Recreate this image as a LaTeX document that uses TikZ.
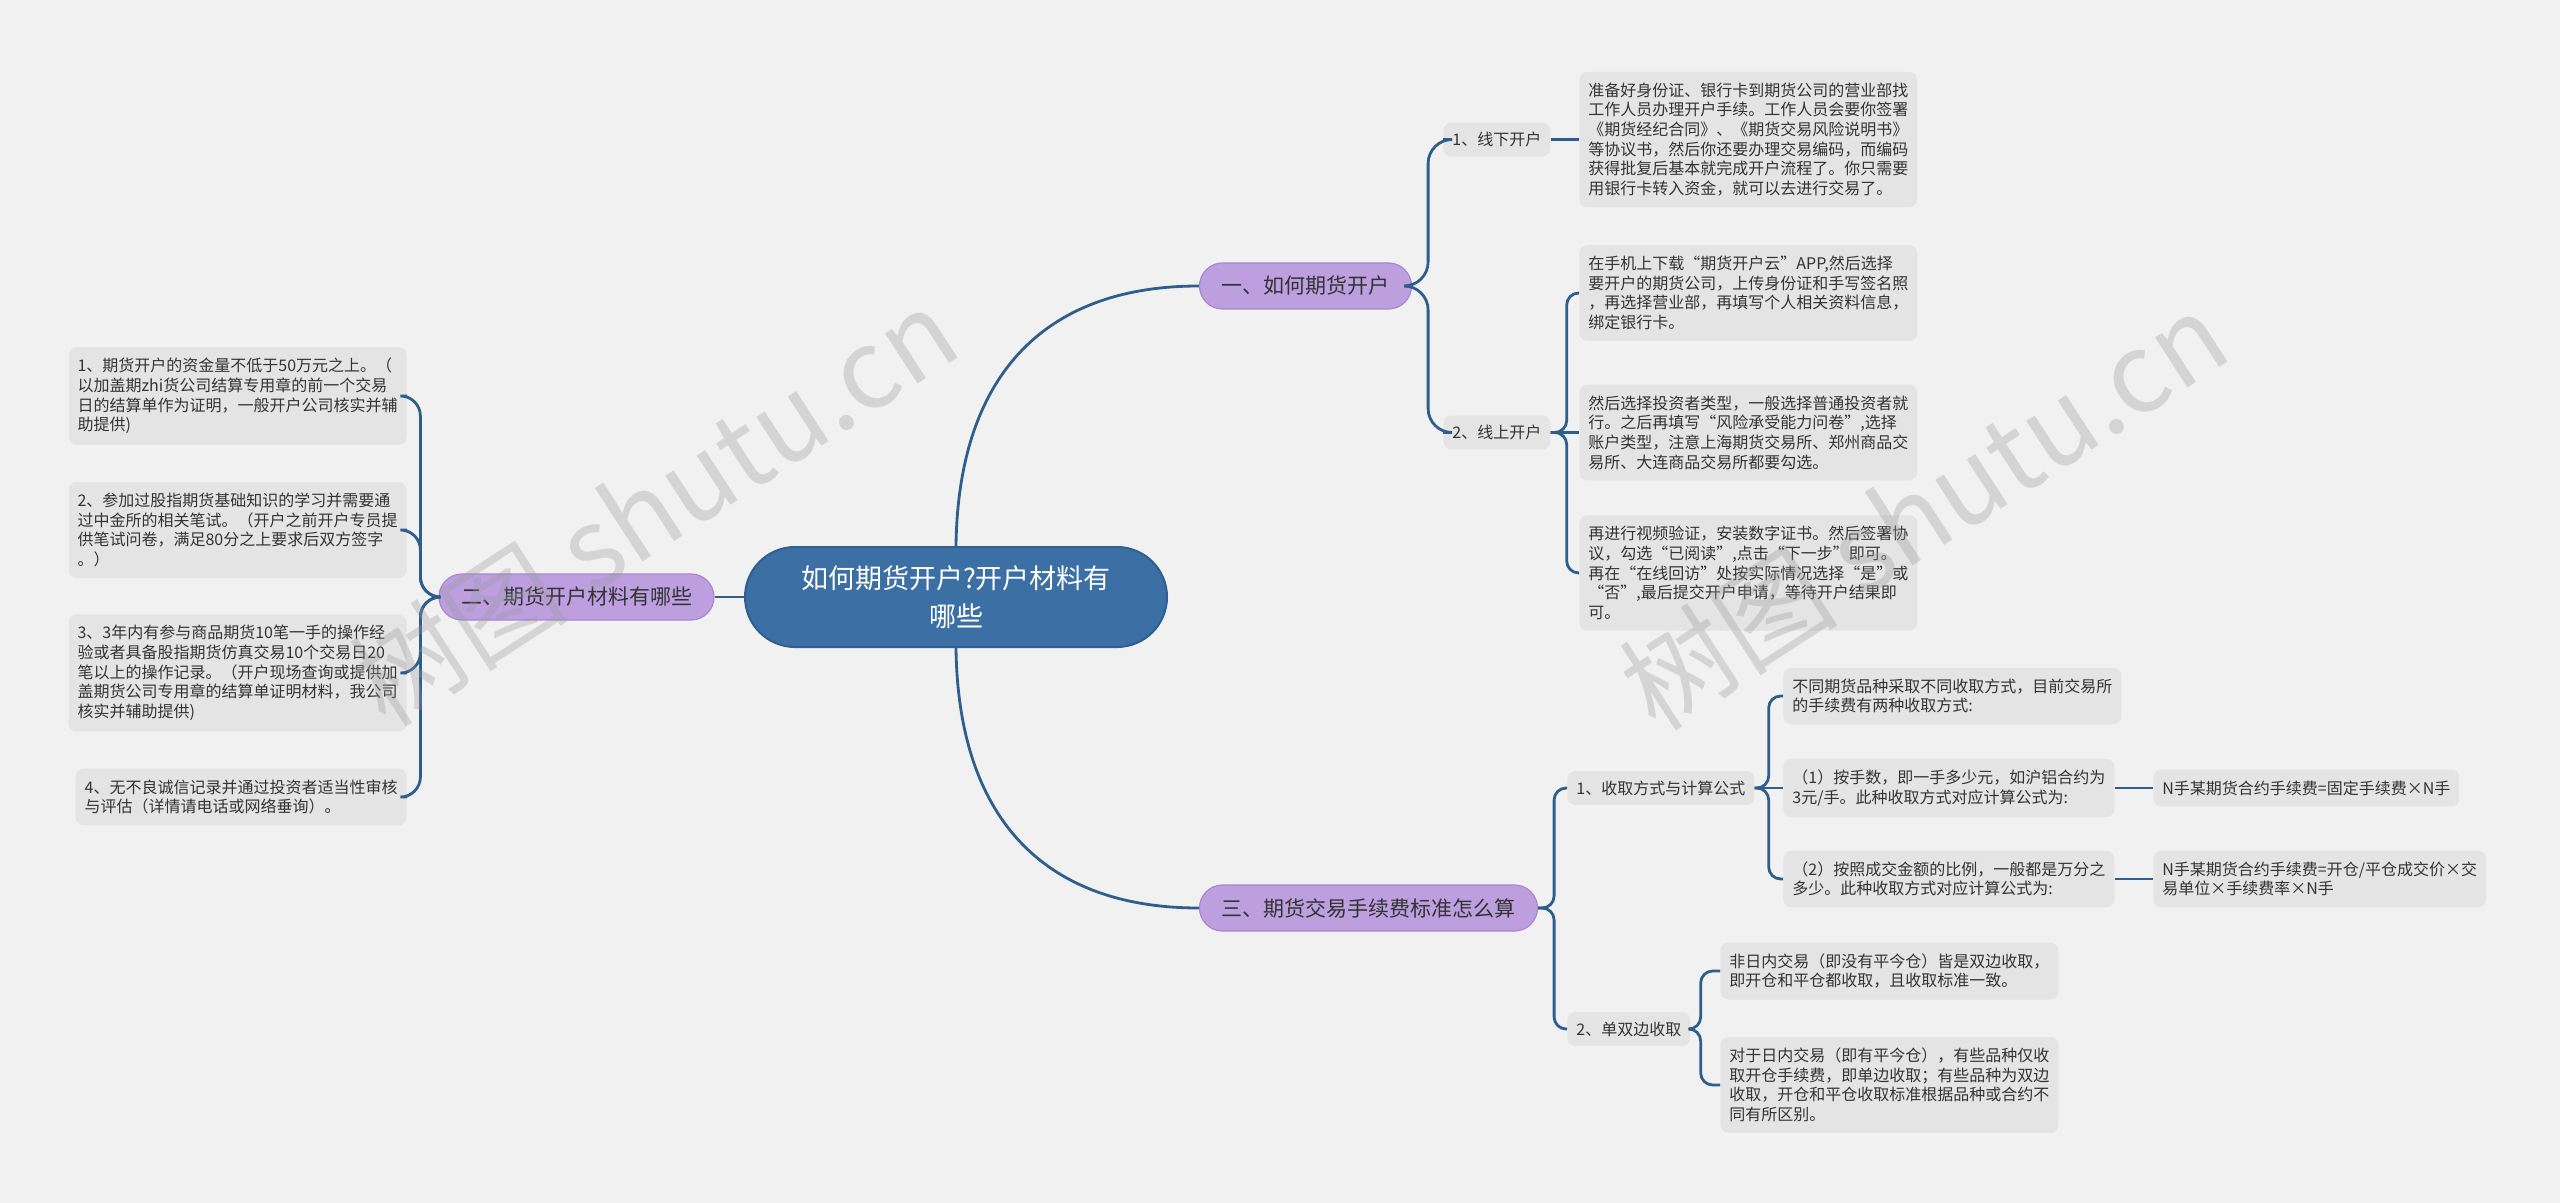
\documentclass[tikz,border=0pt]{standalone}
\usepackage{fontspec}
\setmainfont{Noto Sans CJK SC}
\usetikzlibrary{calc}
\definecolor{bgc}{HTML}{F1F1F1}
\definecolor{boxc}{HTML}{E4E4E4}
\definecolor{txtc}{HTML}{333333}
\definecolor{linec}{HTML}{2E5E8C}
\definecolor{rootc}{HTML}{3C70A4}
\definecolor{rootb}{HTML}{2F5F8E}
\definecolor{purc}{HTML}{BD9FE0}
\definecolor{purb}{HTML}{A887CF}
\tikzset{
  root/.style={align=center, text=white, font=\fontsize{13.5}{19}\selectfont,
    fill=rootc, draw=rootb, line width=1pt, rounded corners=25pt,
    minimum width=211pt, minimum height=50pt},
  branch/.style={fill=purc, draw=purb, line width=0.6pt, rounded corners=11.5pt,
    minimum height=23pt, inner xsep=11pt, text=txtc,
    font=\fontsize{10.5}{12}\selectfont},
  sublabel/.style={fill=boxc, rounded corners=4pt, inner xsep=4.5pt, inner ysep=4.75pt,
    text=txtc, font=\fontsize{8}{9.8}\selectfont, anchor=west},
  leaf/.style={fill=boxc, rounded corners=4pt, align=left, inner xsep=4.5pt,
    inner ysep=5.5pt, text=txtc, font=\fontsize{8}{9.8}\selectfont},
  conn/.style={draw=linec, line width=1.4pt},
  tree/.style={conn, rounded corners=6pt},
  wm/.style={text=black!40, opacity=0.32, font=\fontsize{55}{60}\selectfont}
}
\begin{document}
\begin{tikzpicture}[x=0.5pt,y=-0.5pt]
\useasboundingbox (0,0) rectangle (2560,1203);
\fill[bgc] (0,0) rectangle (2560,1203);

% root and main branches
\node[root] (root) at (956,597) {如何期货开户?开户材料有\\哪些};
\node[branch] (b1) at (1305.5,286) {一、如何期货开户};
\node[branch, minimum width=168pt] (b3) at (1368.5,908) {三、期货交易手续费标准怎么算};
\node[branch] (b2) at (576.5,597) {二、期货开户材料有哪些};

% branch 1
\node[sublabel] (l11) at (1443,139.5) {1、线下开户};
\node[sublabel] (l12) at (1443,432.5) {2、线上开户};
\node[leaf, anchor=west] (k1) at (1579,139.5) {准备好身份证、银行卡到期货公司的营业部找\\工作人员办理开户手续。工作人员会要你签署\\《期货经纪合同》、《期货交易风险说明书》\\等协议书，然后你还要办理交易编码，而编码\\获得批复后基本就完成开户流程了。你只需要\\用银行卡转入资金，就可以去进行交易了。};
\node[leaf, anchor=west] (k2) at (1579,293) {在手机上下载“期货开户云”APP,然后选择\\要开户的期货公司，上传身份证和手写签名照\\，再选择营业部，再填写个人相关资料信息，\\绑定银行卡。};
\node[leaf, anchor=west] (k3) at (1579,432.5) {然后选择投资者类型，一般选择普通投资者就\\行。之后再填写“风险承受能力问卷”,选择\\账户类型，注意上海期货交易所、郑州商品交\\易所、大连商品交易所都要勾选。};
\node[leaf, anchor=west] (k4) at (1579,573) {再进行视频验证，安装数字证书。然后签署协\\议，勾选“已阅读”,点击“下一步”即可。\\再在“在线回访”处按实际情况选择“是”或\\“否”,最后提交开户申请，等待开户结果即\\可。};

% branch 2 (left)
\node[leaf, anchor=east] (m1) at (407,396) {1、期货开户的资金量不低于50万元之上。（\\以加盖期zhi货公司结算专用章的前一个交易\\日的结算单作为证明，一般开户公司核实并辅\\助提供)};
\node[leaf, anchor=east] (m2) at (407,530) {2、参加过股指期货基础知识的学习并需要通\\过中金所的相关笔试。（开户之前开户专员提\\供笔试问卷，满足80分之上要求后双方签字\\。）};
\node[leaf, anchor=east] (m3) at (407,673) {3、3年内有参与商品期货10笔一手的操作经\\验或者具备股指期货仿真交易10个交易日20\\笔以上的操作记录。（开户现场查询或提供加\\盖期货公司专用章的结算单证明材料，我公司\\核实并辅助提供)};
\node[leaf, anchor=east] (m4) at (407,797) {4、无不良诚信记录并通过投资者适当性审核\\与评估（详情请电话或网络垂询）。};

% branch 3
\node[sublabel] (l31) at (1567,788) {1、收取方式与计算公式};
\node[sublabel] (l32) at (1567,1029) {2、单双边收取};
\node[leaf, anchor=west] (n1) at (1783,696) {不同期货品种采取不同收取方式，目前交易所\\的手续费有两种收取方式:};
\node[leaf, anchor=west] (n2) at (1783,788) {（1）按手数，即一手多少元，如沪铝合约为\\3元/手。此种收取方式对应计算公式为:};
\node[leaf, anchor=west] (n3) at (1783,879) {（2）按照成交金额的比例，一般都是万分之\\多少。此种收取方式对应计算公式为:};
\node[leaf, anchor=west] (f1) at (2153,788) {N手某期货合约手续费=固定手续费×N手};
\node[leaf, anchor=west] (f2) at (2153,879) {N手某期货合约手续费=开仓/平仓成交价×交\\易单位×手续费率×N手};
\node[leaf, anchor=west] (p1) at (1720,971) {非日内交易（即没有平今仓）皆是双边收取，\\即开仓和平仓都收取，且收取标准一致。};
\node[leaf, anchor=west] (p2) at (1720,1085) {对于日内交易（即有平今仓），有些品种仅收\\取开仓手续费，即单边收取；有些品种为双边\\收取，开仓和平仓收取标准根据品种或合约不\\同有所区别。};

% connectors
\draw[conn] (root.north) .. controls (958,380) and (1040,286) .. (b1.west);
\draw[conn] (root.south) .. controls (958,814) and (1040,908) .. (b3.west);
\draw[conn] (root.west) -- (b2.east);

\draw[tree, rounded corners=12pt] (b1.east) -- ++(16,0) |- (l11.west);
\draw[tree, rounded corners=12pt] (b1.east) -- ++(16,0) |- (l12.west);
\draw[conn] (l11.east) -- (k1.west);
\draw[tree] (l12.east) -- ++(16,0) |- (k2.west);
\draw[conn] (l12.east) -- (k3.west);
\draw[tree] (l12.east) -- ++(16,0) |- (k4.west);

\draw[tree, rounded corners=10pt] (b2.west) -- ++(-18,0) |- (m1.east);
\draw[tree, rounded corners=10pt] (b2.west) -- ++(-18,0) |- (m2.east);
\draw[tree, rounded corners=10pt] (b2.west) -- ++(-18,0) |- (m3.east);
\draw[tree, rounded corners=10pt] (b2.west) -- ++(-18,0) |- (m4.east);

\draw[tree] (b3.east) -- ++(16,0) |- (l31.west);
\draw[tree] (b3.east) -- ++(16,0) |- (l32.west);
\draw[tree] (l31.east) -- ++(14,0) |- (n1.west);
\draw[conn] (l31.east) -- (n2.west);
\draw[tree] (l31.east) -- ++(14,0) |- (n3.west);
\draw[conn] (n2.east) -- (f1.west);
\draw[conn] (n3.east) -- (f2.west);
\draw[tree] (l32.east) -- ++(10,0) |- (p1.west);
\draw[tree] (l32.east) -- ++(10,0) |- (p2.west);

% watermarks
\node[wm, rotate=33] (w1) at (653,506) {树图 shutu.cn};
\node[wm, rotate=33] (w2) at (1923,510) {树图 shutu.cn};
\end{tikzpicture}
\end{document}
